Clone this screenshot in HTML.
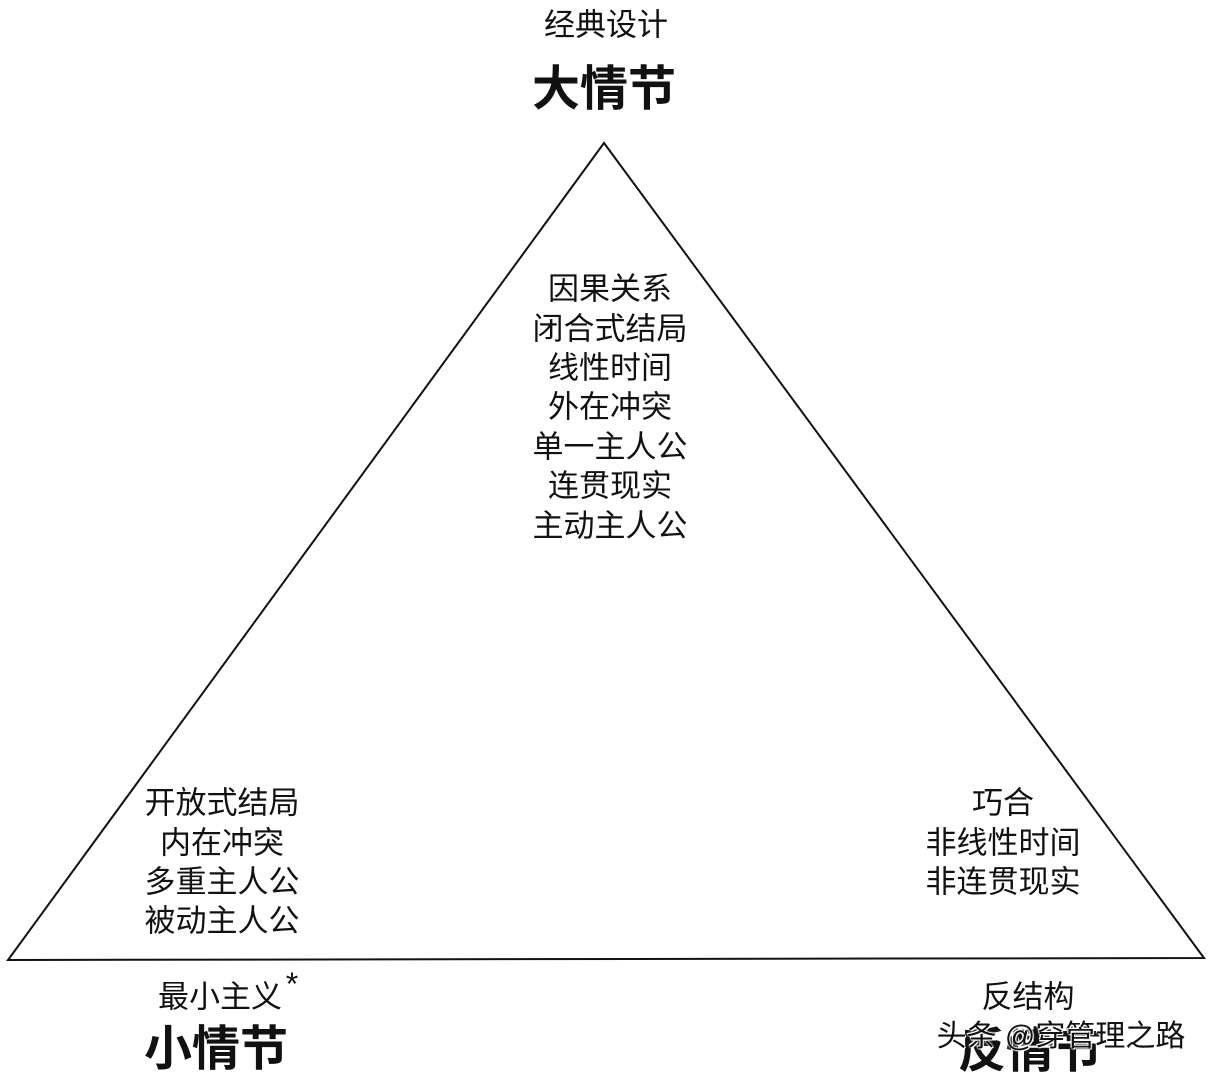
<!DOCTYPE html>
<html><head><meta charset="utf-8"><style>
html,body{margin:0;padding:0;background:#fff;}
body{width:1216px;height:1080px;position:relative;overflow:hidden;font-family:"Liberation Sans","Noto Sans CJK SC",sans-serif;color:#111;}
.t{position:absolute;white-space:nowrap;transform:translate(-50%,-50%);line-height:1;}
.s{font-size:31px;}
.b{font-size:48px;font-weight:bold;}
</style></head><body>
<svg width="1216" height="1080" style="position:absolute;left:0;top:0">
<polygon points="604,143 8,960 1204,958" fill="none" stroke="#111" stroke-width="2"/>
</svg>
<div class="t s" style="left:606px;top:25px">经典设计</div>
<div class="t b" style="left:604px;top:90px">大情节</div>
<div class="t s" style="left:610px;top:289px">因果关系</div>
<div class="t s" style="left:610px;top:329px">闭合式结局</div>
<div class="t s" style="left:610px;top:368px">线性时间</div>
<div class="t s" style="left:610px;top:407px">外在冲突</div>
<div class="t s" style="left:610px;top:447px">单一主人公</div>
<div class="t s" style="left:610px;top:486px">连贯现实</div>
<div class="t s" style="left:610px;top:526px">主动主人公</div>
<div class="t s" style="left:222px;top:803px">开放式结局</div>
<div class="t s" style="left:222px;top:843px">内在冲突</div>
<div class="t s" style="left:222px;top:882px">多重主人公</div>
<div class="t s" style="left:222px;top:921px">被动主人公</div>
<div class="t s" style="left:1003px;top:803px">巧合</div>
<div class="t s" style="left:1003px;top:843px">非线性时间</div>
<div class="t s" style="left:1003px;top:882px">非连贯现实</div>
<div class="t s" style="left:220px;top:997px">最小主义</div>
<div class="t" style="left:292px;top:984px;font-size:32px">*</div>
<div class="t b" style="left:216px;top:1050px">小情节</div>
<div class="t s" style="left:1028px;top:997px">反结构</div>
<div class="t b" style="left:1030px;top:1052px">反情节</div>
<div class="t" style="left:1061px;top:1037px;font-size:30px;color:#111;text-shadow:0 0 2px #fff,0 0 2px #fff,1px 1px 0 #fff,-1px -1px 0 #fff">头条 @穿管理之路</div>
</body></html>
